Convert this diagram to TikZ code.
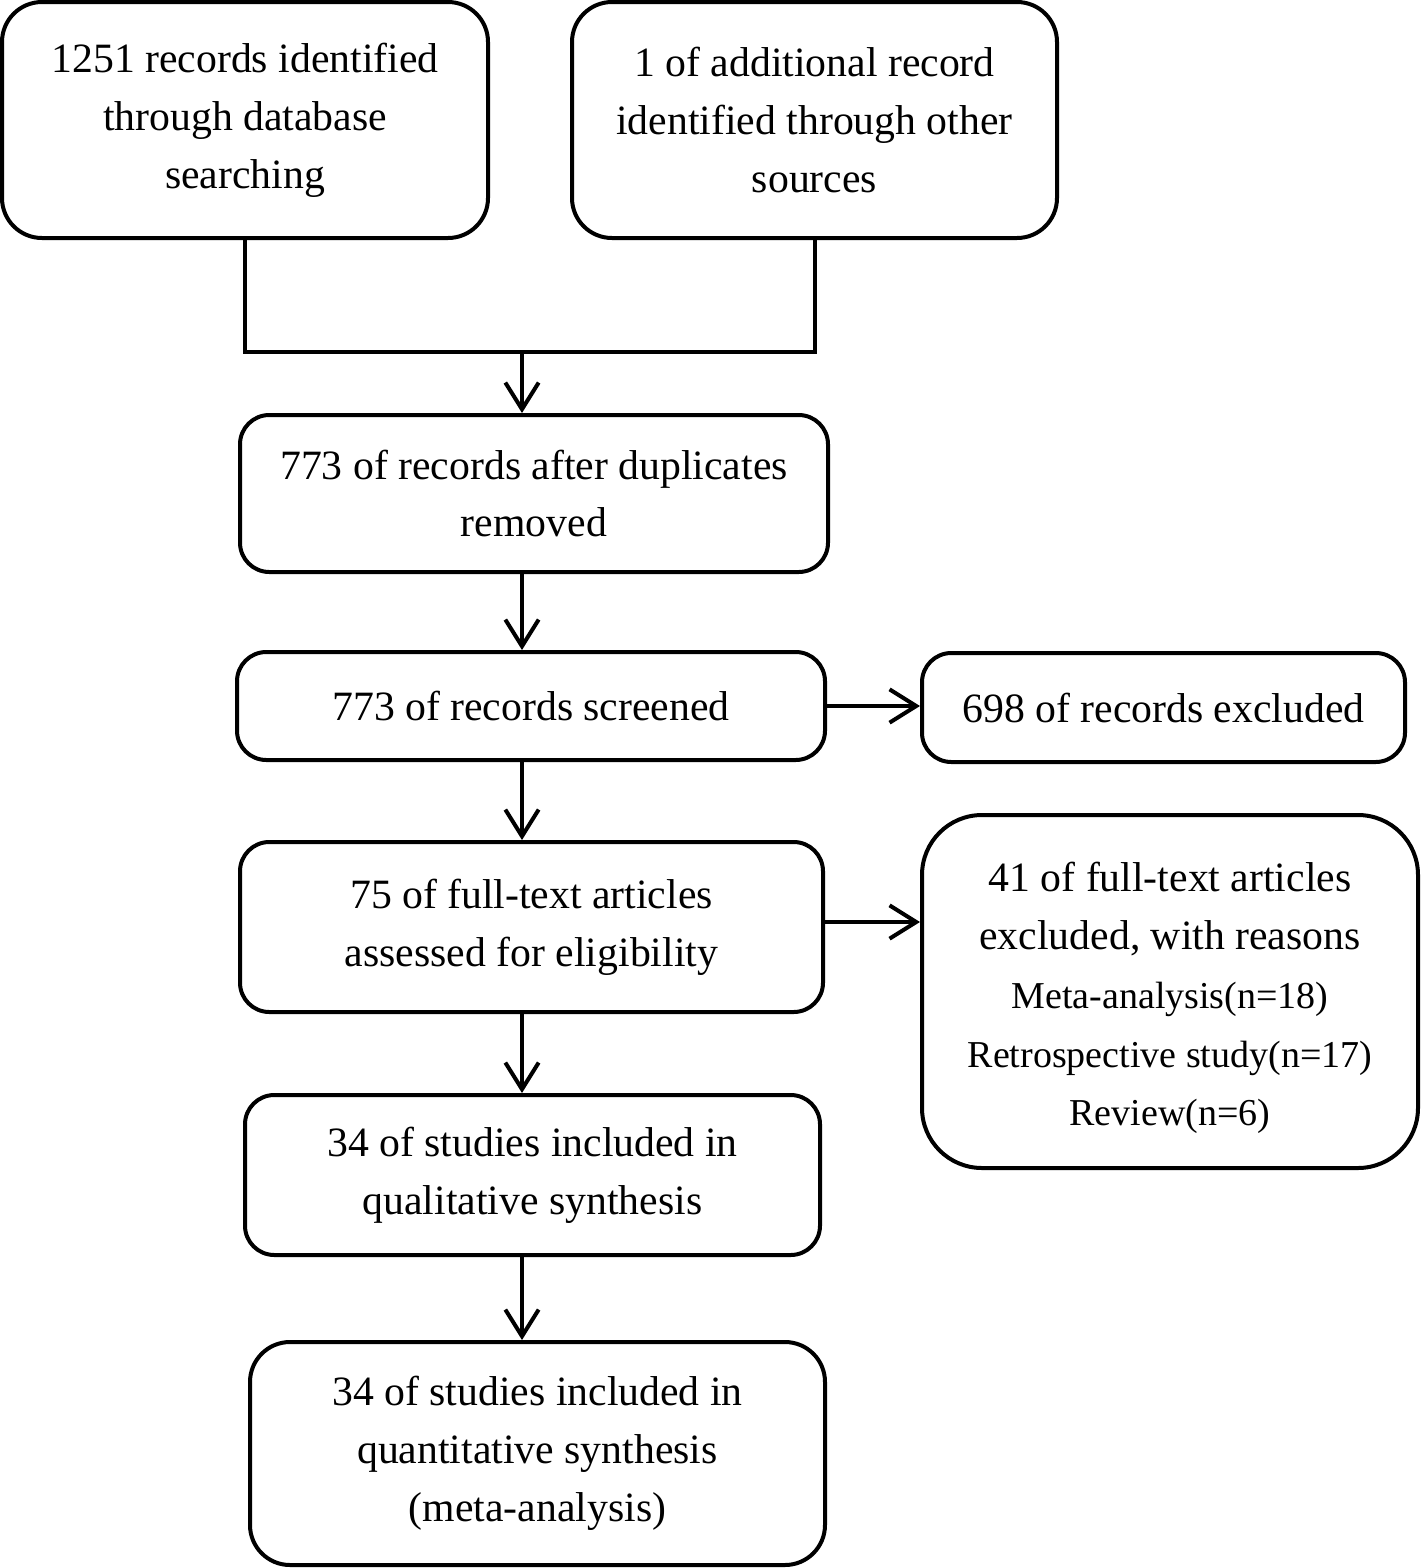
\documentclass[tikz,border=0pt]{standalone}
\usepackage{fontspec}
\setmainfont{Liberation Serif}
\usetikzlibrary{arrows.meta}

\tikzset{every picture/.style={line width=3pt}}
\tikzset{
	flowbox/.style={draw, rounded corners=22pt, align=center, inner sep=0pt,
		font=\fontsize{31.3}{43.5}\selectfont},
	arr/.style={-{Straight Barb[length=20pt, width=25pt]}}
}
\newcommand{\reasonfont}{\fontsize{28.5}{44}\selectfont}

\begin{document}
\begin{tikzpicture}[x=0.75pt,y=0.75pt,yscale=-1,xscale=1]
		\useasboundingbox (0,0) rectangle (1421,1568);

		% identification
		\node [flowbox, rounded corners=30pt, minimum width=486*0.75pt, minimum height=236*0.75pt] (dbsearch) at (245,120) {1251 records identified\\through database\\searching};
		\node [flowbox, rounded corners=30pt, minimum width=485*0.75pt, minimum height=236*0.75pt] (othersrc) at (814.5,120) {1 of additional record\\identified through other\\sources};
		\coordinate (join) at (522,352);

		% screening
		\node [flowbox, minimum width=588*0.75pt, minimum height=157*0.75pt] (dedup) at (534,493.5) {773 of records after duplicates\\removed};
		\node [flowbox, minimum width=588*0.75pt, minimum height=108*0.75pt] (screened) at (531,706) {773 of records screened};
		\node [flowbox, minimum width=483*0.75pt, minimum height=109*0.75pt] (excluded) at (1163.5,707.5) {698 of records excluded};

		% eligibility
		\node [flowbox, minimum width=583*0.75pt, minimum height=170*0.75pt] (fulltext) at (531.5,927) {75 of full-text articles\\assessed for eligibility};
		\node [flowbox, rounded corners=45pt, minimum width=496*0.75pt, minimum height=353*0.75pt] (reasons) at (1170,991.5) {};
		\node [align=center, inner sep=0pt, font=\fontsize{31.3}{44}\selectfont] (reasontext) at (1170,998) {41 of full-text articles\\excluded, with reasons\\\reasonfont Meta-analysis(n=18)\\\reasonfont Retrospective study(n=17)\\\reasonfont Review(n=6)};

		% included
		\node [flowbox, minimum width=575*0.75pt, minimum height=160*0.75pt] (qualit) at (532.5,1175) {34 of studies included in\\qualitative synthesis};
		\node [flowbox, rounded corners=30pt, minimum width=575*0.75pt, minimum height=223*0.75pt] (quantit) at (537.5,1453.5) {34 of studies included in\\quantitative synthesis\\(meta-analysis)};

		\draw (dbsearch.south) |- (join) -| (othersrc.south);
		\draw [arr] (join) -- (join |- dedup.north);
		\draw [arr] (dedup.south -| join) -- (screened.north -| join);
		\draw [arr] (screened.east) -- (screened.east -| excluded.west);
		\draw [arr] (screened.south -| join) -- (fulltext.north -| join);
		\draw [arr] ([yshift=-3.75pt]fulltext.east) -- ([yshift=-3.75pt]fulltext.east -| reasons.west);
		\draw [arr] (fulltext.south -| join) -- (qualit.north -| join);
		\draw [arr] (qualit.south -| join) -- (quantit.north -| join);

		\end{tikzpicture}
\end{document}
